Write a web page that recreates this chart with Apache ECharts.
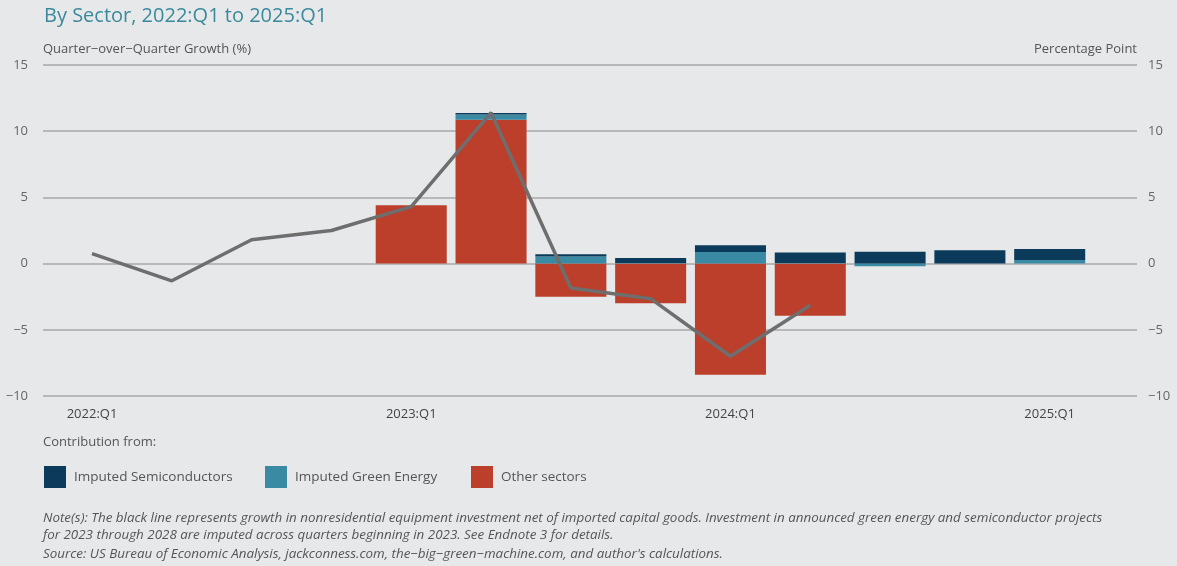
<!DOCTYPE html>
<html>
<head>
<meta charset="utf-8">
<script src="https://cdn.jsdelivr.net/npm/echarts@6/dist/echarts.min.js"></script>
<style>
html,body{margin:0;padding:0;background:#e7e8ea;}
#chart{width:1177px;height:566px;}
</style>
</head>
<body>
<div id="chart"></div>
<script>
const quarters = ['2022:Q1','2022:Q2','2022:Q3','2022:Q4','2023:Q1','2023:Q2','2023:Q3','2023:Q4','2024:Q1','2024:Q2','2024:Q3','2024:Q4','2025:Q1'];
const tickQuarters = ['2022:Q1','2023:Q1','2024:Q1','2025:Q1'];
const semiconductors = [null,null,null,null,null,0.1,0.17,0.38,0.5,0.78,0.9,1.0,0.83];
const greenEnergy    = [null,null,null,null,null,0.4,0.53,0.05,0.88,0.05,-0.2,null,0.27];
const otherSectors   = [null,null,null,null,4.4,10.87,-2.5,-3.0,-8.4,-3.93,null,null,null];
const growthLine     = [0.75,-1.3,1.8,2.5,4.3,11.4,-1.85,-2.65,-7.0,-3.15,null,null,null];
const yTicks = [-10,-5,0,5,10,15];

const C_SEMI = '#0b3a5a', C_GREEN = '#3b8aa4', C_OTHER = '#bb3f2a';
const FONT = '"Open Sans", sans-serif';
const NOTE_FONT = '"Liberation Sans Narrow", "Open Sans", sans-serif';

const tickIdx = tickQuarters.map(q => quarters.indexOf(q));
const minus = v => String(v).replace('-', '\u2212');

const chart = echarts.init(document.getElementById('chart'), null, {renderer:'canvas'});
const yBase = {type: 'value', min: yTicks[0], max: yTicks[yTicks.length-1], interval: 5,
               axisLine: {show: false}, axisTick: {show: false}};
const legendText = {fontFamily: FONT, fontSize: 13.5, color: '#555', padding: [0,0,0,3]};
const option = {
  backgroundColor: '#e7e8ea',
  animation: false,
  textStyle: {fontFamily: FONT},
  title: [
    {text: 'By Sector, 2022:Q1 to 2025:Q1', left: 39, top: 1,
     textStyle: {fontFamily: FONT, fontSize: 20, fontWeight: 'normal', color: '#3a8a9c'}},
    {text: 'Quarter\u2212over\u2212Quarter Growth (%)', left: 38, top: 38,
     textStyle: {fontFamily: FONT, fontSize: 13, fontWeight: 'normal', color: '#555'}},
    {text: 'Percentage Point', right: 35, top: 38,
     textStyle: {fontFamily: FONT, fontSize: 13, fontWeight: 'normal', color: '#555'}},
    {text: 'Contribution from:', left: 38, top: 431,
     textStyle: {fontFamily: FONT, fontSize: 13, fontWeight: 'normal', color: '#555'}},
    {text: "Note(s): The black line represents growth in nonresidential equipment investment net of imported capital goods. Investment in announced green energy and semiconductor projects\nfor 2023 through 2028 are imputed across quarters beginning in 2023. See Endnote 3 for details.",
     left: 38, top: 504,
     textStyle: {fontFamily: NOTE_FONT, fontStyle: 'italic', fontSize: 13.4, fontWeight: 'normal', color: '#555', lineHeight: 17.5}},
    {text: "Source: US Bureau of Economic Analysis, jackconness.com, the\u2212big\u2212green\u2212machine.com, and author's calculations.",
     left: 38, top: 543,
     textStyle: {fontFamily: NOTE_FONT, fontStyle: 'italic', fontSize: 13.4, fontWeight: 'normal', color: '#555'}}
  ],
  legend: [
    {data: ['Imputed Semiconductors'], left: 44, top: 466, itemWidth: 22, itemHeight: 22, padding: 0, icon: 'rect', textStyle: legendText},
    {data: ['Imputed Green Energy'], left: 265, top: 466, itemWidth: 22, itemHeight: 22, padding: 0, icon: 'rect', textStyle: legendText},
    {data: ['Other sectors'], left: 471, top: 466, itemWidth: 22, itemHeight: 22, padding: 0, icon: 'rect', textStyle: legendText}
  ],
  grid: [
    {left: 43, right: 40, top: 65, bottom: 170, containLabel: false},
    {left: 52.1, right: 87.4, top: 65, bottom: 170, containLabel: false}
  ],
  xAxis: [
    {type: 'value', gridIndex: 0, min: 0, max: 1, show: false},
    {type: 'category', gridIndex: 1, data: quarters, boundaryGap: true,
     axisLine: {show: false}, axisTick: {show: false}, splitLine: {show: false},
     axisLabel: {interval: 0, formatter: (v, i) => tickIdx.includes(i) ? v : '', margin: 12,
                 fontFamily: FONT, fontSize: 13, color: '#444'}}
  ],
  yAxis: [
    Object.assign({}, yBase, {gridIndex: 0, position: 'left',
     splitLine: {lineStyle: {color: '#a8a9ab', width: 1.5}},
     axisLabel: {margin: 15, formatter: minus, fontFamily: FONT, fontSize: 13, color: '#666'}}),
    Object.assign({}, yBase, {gridIndex: 0, position: 'right', splitLine: {show: false},
     axisLabel: {margin: 11, formatter: minus, fontFamily: FONT, fontSize: 13, color: '#666'}}),
    Object.assign({}, yBase, {gridIndex: 1, show: false, splitLine: {show: false}})
  ],
  series: [
    {name: 'Other sectors', type: 'bar', stack: 'total', xAxisIndex: 1, yAxisIndex: 2,
     barCategoryGap: '11%', data: otherSectors, itemStyle: {color: C_OTHER}},
    {name: 'Imputed Green Energy', type: 'bar', stack: 'total', xAxisIndex: 1, yAxisIndex: 2,
     barCategoryGap: '11%', data: greenEnergy, itemStyle: {color: C_GREEN}},
    {name: 'Imputed Semiconductors', type: 'bar', stack: 'total', xAxisIndex: 1, yAxisIndex: 2,
     barCategoryGap: '11%', data: semiconductors, itemStyle: {color: C_SEMI}},
    {name: 'Growth', type: 'line', xAxisIndex: 1, yAxisIndex: 2, data: growthLine,
     showSymbol: false, symbol: 'none', lineStyle: {color: '#6e6e6e', width: 3.5}, z: 5}
  ]
};
chart.setOption(option);
</script>
</body>
</html>
